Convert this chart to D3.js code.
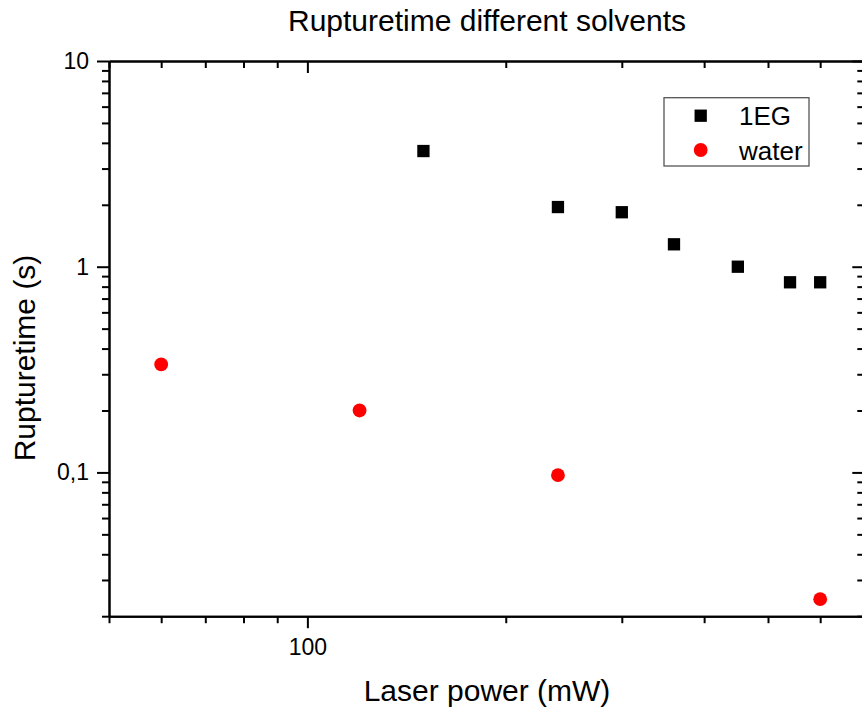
<!DOCTYPE html>
<html>
<head>
<meta charset="utf-8">
<script src="https://cdn.jsdelivr.net/npm/d3@7"></script>
<style>
  html, body { margin: 0; padding: 0; background: #fff; }
  svg { display: block; font-family: "Liberation Sans", Arial, sans-serif; }
</style>
</head>
<body>
<svg id="chart" width="862" height="711"></svg>
<script>
// ---- data ----
const egPower = [150, 240, 300, 360, 450, 540, 600];
const egTime = [3.65, 1.95, 1.84, 1.285, 1.0, 0.84, 0.84];
const waterPower = [60, 120, 240, 600];
const waterTime = [0.335, 0.2, 0.097, 0.0242];

const xMajorTicks = [100];
const xMinorTicks = [50, 60, 70, 80, 90, 200, 300, 400, 500, 600, 700];
const yMajorTicks = [0.1, 1, 10];
const yMinorTicks = [0.02, 0.03, 0.04, 0.05, 0.06, 0.07, 0.08, 0.09,
                     0.2, 0.3, 0.4, 0.5, 0.6, 0.7, 0.8, 0.9,
                     2, 3, 4, 5, 6, 7, 8, 9];
const yTickLabels = {0.1: "0,1", 1: "1", 10: "10"};
const xTickLabels = {100: "100"};

const seriesNames = ["1EG", "water"];
const seriesColors = ["#000000", "#ff0000"];

// ---- layout ----
const svg = d3.select("#chart");
const pLeft = 109, pRight = 864.3, pTop = 61, pBottom = 616.2;

const x = d3.scaleLog().domain([50, 700]).range([pLeft, pRight]);
const y = d3.scaleLog().domain([0.02, 10]).range([pBottom, pTop]);

const majorLen = 12, minorLen = 7;

function styleAxis(g) {
  g.selectAll("path.domain").attr("stroke", "#000").attr("stroke-width", 2);
  g.selectAll(".tick line").attr("stroke", "#000").attr("stroke-width", 2);
  g.selectAll(".tick text").attr("fill", "#000").style("font-size", "23px")
    .style("font-family", '"Liberation Sans", Arial, sans-serif');
}

// bottom axis
svg.append("g").attr("transform", `translate(0,${pBottom})`)
  .call(d3.axisBottom(x).tickValues(xMinorTicks).tickSize(minorLen).tickSizeOuter(0).tickFormat(""))
  .call(styleAxis);
svg.append("g").attr("transform", `translate(0,${pBottom})`)
  .call(d3.axisBottom(x).tickValues(xMajorTicks).tickSize(majorLen).tickSizeOuter(0).tickPadding(10)
        .tickFormat(d => xTickLabels[d]))
  .call(styleAxis);

// top axis (ticks inward)
svg.append("g").attr("transform", `translate(0,${pTop})`)
  .call(d3.axisTop(x).tickValues(xMinorTicks).tickSize(-minorLen).tickSizeOuter(0).tickFormat(""))
  .call(styleAxis);
svg.append("g").attr("transform", `translate(0,${pTop})`)
  .call(d3.axisTop(x).tickValues(xMajorTicks).tickSize(-majorLen).tickSizeOuter(0).tickFormat(""))
  .call(styleAxis);

// left axis
svg.append("g").attr("transform", `translate(${pLeft},0)`)
  .call(d3.axisLeft(y).tickValues(yMinorTicks).tickSize(minorLen).tickSizeOuter(0).tickFormat(""))
  .call(styleAxis);
svg.append("g").attr("transform", `translate(${pLeft},0)`)
  .call(d3.axisLeft(y).tickValues(yMajorTicks).tickSize(majorLen).tickSizeOuter(0).tickPadding(8)
        .tickFormat(d => yTickLabels[d]))
  .call(styleAxis);

// right axis (ticks inward)
svg.append("g").attr("transform", `translate(${pRight},0)`)
  .call(d3.axisRight(y).tickValues(yMinorTicks).tickSize(-minorLen).tickSizeOuter(0).tickFormat(""))
  .call(styleAxis);
svg.append("g").attr("transform", `translate(${pRight},0)`)
  .call(d3.axisRight(y).tickValues(yMajorTicks).tickSize(-majorLen).tickSizeOuter(0).tickFormat(""))
  .call(styleAxis);

// ---- data marks ----
const sq = 12.3;
svg.append("g").selectAll("rect").data(egPower.map((p, i) => [p, egTime[i]]))
  .join("rect")
  .attr("x", d => x(d[0]) - sq / 2)
  .attr("y", d => y(d[1]) - sq / 2)
  .attr("width", sq).attr("height", sq)
  .attr("fill", seriesColors[0]);

svg.append("g").selectAll("circle").data(waterPower.map((p, i) => [p, waterTime[i]]))
  .join("circle")
  .attr("cx", d => x(d[0]))
  .attr("cy", d => y(d[1]))
  .attr("r", 6.9)
  .attr("fill", seriesColors[1]);

// ---- legend ----
const lg = svg.append("g");
lg.append("rect").attr("x", 664).attr("y", 97.7).attr("width", 145).attr("height", 68.3)
  .attr("fill", "#fff").attr("stroke", "#555").attr("stroke-width", 1.3);
lg.append("rect").attr("x", 700.7 - sq / 2).attr("y", 115.7 - sq / 2).attr("width", sq).attr("height", sq)
  .attr("fill", seriesColors[0]);
lg.append("circle").attr("cx", 700.7).attr("cy", 150).attr("r", 6.9).attr("fill", seriesColors[1]);
lg.selectAll("text.leg").data(seriesNames).join("text")
  .attr("class", "leg")
  .attr("x", 739).attr("y", (d, i) => 125 + i * 34.5)
  .style("font-size", "26px").attr("fill", "#000")
  .text(d => d);

// ---- titles ----
svg.append("text").attr("x", 487).attr("y", 31).attr("text-anchor", "middle")
  .style("font-size", "30px").attr("fill", "#000").text("Rupturetime different solvents");
svg.append("text").attr("x", 487).attr("y", 701).attr("text-anchor", "middle")
  .style("font-size", "30px").attr("fill", "#000").text("Laser power (mW)");
svg.append("text").attr("transform", "translate(35,358) rotate(-90)").attr("text-anchor", "middle")
  .style("font-size", "30px").attr("fill", "#000").text("Rupturetime (s)");
</script>
</body>
</html>
